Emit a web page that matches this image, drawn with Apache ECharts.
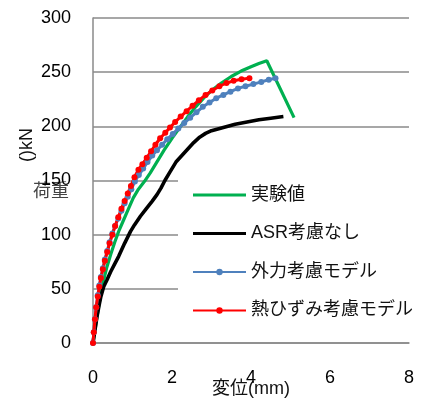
<!DOCTYPE html>
<html>
<head>
<meta charset="utf-8">
<script src="https://cdn.jsdelivr.net/npm/echarts@6/dist/echarts.min.js"></script>
<style>
html,body{margin:0;padding:0;background:#fff;}
#chart{width:428px;height:401px;}
</style>
</head>
<body>
<div id="chart"></div>
<script>
// Series names
const seriesNames = ['実験値', 'ASR考慮なし', '外力考慮モデル', '熱ひずみ考慮モデル'];
// Tick labels
const xTicks = [0, 2, 4, 6, 8];
const yTicks = [0, 50, 100, 150, 200, 250, 300];
// Axis titles
const xTitle = '変位(mm)';
const yTitleA = '()kN';
const yTitleB = '荷重';

// Displacement (mm) / load (kN) pairs
const experiment = [
  [0,0],[0.05,12],[0.1,24],[0.15,35],[0.2,46],[0.27,58],[0.35,70],[0.45,82],[0.55,93],
  [0.65,103],[0.78,114],[0.9,124],[1.02,134],[1.15,142],[1.3,149],[1.45,157],[1.6,166],
  [1.8,178],[2.0,189],[2.2,199],[2.4,209],[2.6,218],[2.8,226],[3.0,233],[3.25,240],
  [3.5,246],[3.75,251],[4.0,255],[4.2,258],[4.4,260.5],[5.09,208]
];
const noASR = [
  [0,0],[0.05,12],[0.1,24],[0.15,34],[0.2,43],[0.27,52],[0.35,58],[0.45,66],[0.55,73],
  [0.65,80],[0.8,92],[0.95,103],[1.05,109],[1.2,117],[1.35,124],[1.5,131],[1.62,137],
  [1.72,143],[1.82,150],[1.95,158],[2.1,167],[2.25,173],[2.4,179],[2.55,185],[2.7,190],
  [2.85,193.5],[3.0,196],[3.3,199],[3.6,202],[3.9,204],[4.2,206],[4.5,207.5],[4.82,209]
];
const externalForce = [
  [0,0],[0.02,10],[0.05,22],[0.08,33],[0.12,44],[0.16,53],[0.2,61],[0.25,69],[0.3,77],
  [0.36,85],[0.42,93],[0.49,101],[0.56,108],[0.64,115],[0.72,122],[0.8,129],[0.88,135],
  [0.97,142],[1.06,149],[1.16,155],[1.27,161],[1.38,167],[1.5,173],[1.62,178],[1.75,183],
  [1.88,188],[2.02,193],[2.16,198],[2.31,203],[2.46,208],[2.62,213],[2.78,218],[2.95,222],
  [3.12,226],[3.3,229],[3.48,232],[3.67,235],[3.86,237],[4.06,239],[4.26,241],[4.45,243],
  [4.62,244.5]
];
const thermalStrain = [
  [0,0],[0.02,10],[0.05,22],[0.08,33],[0.12,43],[0.16,52],[0.2,60],[0.25,68],[0.3,76],
  [0.36,84],[0.42,92],[0.49,100],[0.56,108],[0.64,116],[0.72,124],[0.8,131],[0.88,138],
  [0.96,145],[1.05,153],[1.15,160],[1.25,165],[1.36,171],[1.47,177],[1.58,183],[1.7,189],
  [1.83,194],[1.95,199],[2.08,204],[2.22,209],[2.37,214],[2.52,219],[2.68,224],[2.85,229],
  [3.02,233],[3.2,237],[3.38,240],[3.56,242],[3.76,243.5],[3.96,244.5]
];

const colors = ['#00B050', '#000000', '#4F81BD', '#FF0000'];
const FONT = "'Liberation Sans', 'Noto Sans CJK JP', sans-serif";
const gridColor = '#8a8a8a';
// plain line legend icon (53 x 8 box, 3px bar in the middle)
const lineIcon = 'path://M0,0L0.01,0L0,0.01Z M0,2.5L53,2.5L53,5.5L0,5.5Z M53,8L52.99,8L53,7.99Z';

const chart = echarts.init(document.getElementById('chart'));
chart.setOption({
  animation: false,
  backgroundColor: '#fff',
  grid: { left: 93, right: 19, top: 18, bottom: 58 },
  xAxis: {
    type: 'value', min: xTicks[0], max: xTicks[xTicks.length-1], interval: 2,
    axisLine: { show: true, lineStyle: { color: gridColor, width: 1.5 } },
    axisTick: { show: false },
    splitLine: { show: false },
    axisLabel: { fontSize: 18, color: '#000', margin: 26, fontFamily: FONT }
  },
  yAxis: {
    type: 'value', min: yTicks[0], max: yTicks[yTicks.length-1], interval: 50,
    axisLine: { show: true, lineStyle: { color: gridColor, width: 1.5 } },
    axisTick: { show: false },
    splitLine: { show: true, lineStyle: { color: gridColor, width: 1.5 } },
    axisLabel: { fontSize: 18, color: '#000', margin: 22, fontFamily: FONT }
  },
  legend: {
    orient: 'vertical', left: 178, top: 176,
    padding: [8, 4, 15, 14],
    backgroundColor: '#fff',
    itemWidth: 53, itemHeight: 8, itemGap: 16.5,
    symbolKeepAspect: false,
    textStyle: { fontSize: 18, color: '#111', fontFamily: FONT, lineHeight: 22 },
    data: [
      { name: seriesNames[0], icon: lineIcon },
      { name: seriesNames[1], icon: lineIcon },
      { name: seriesNames[2] },
      { name: seriesNames[3] }
    ]
  },
  graphic: [
    { type: 'text', x: 27, y: 145, rotation: Math.PI/2,
      style: { text: yTitleA, fontSize: 18, fill: '#111', fontFamily: FONT, align: 'center', verticalAlign: 'middle' } },
    { type: 'text', x: 51, y: 192,
      style: { text: yTitleB, fontSize: 18, fill: '#444', fontFamily: FONT, align: 'center', verticalAlign: 'middle' } },
    { type: 'text', x: 251, y: 389,
      style: { text: xTitle, fontSize: 18, fill: '#111', fontFamily: FONT, align: 'center', verticalAlign: 'middle' } }
  ],
  series: [
    { name: seriesNames[0], type: 'line', data: experiment, symbol: 'none',
      lineStyle: { color: colors[0], width: 3.2 }, itemStyle: { color: colors[0] } },
    { name: seriesNames[1], type: 'line', data: noASR, symbol: 'none',
      lineStyle: { color: colors[1], width: 3.6 }, itemStyle: { color: colors[1] } },
    { name: seriesNames[2], type: 'line', data: externalForce, symbol: 'circle', symbolSize: 6,
      lineStyle: { color: colors[2], width: 3 }, itemStyle: { color: colors[2] } },
    { name: seriesNames[3], type: 'line', data: thermalStrain, symbol: 'circle', symbolSize: 6,
      lineStyle: { color: colors[3], width: 3 }, itemStyle: { color: colors[3] } }
  ]
});
</script>
</body>
</html>
